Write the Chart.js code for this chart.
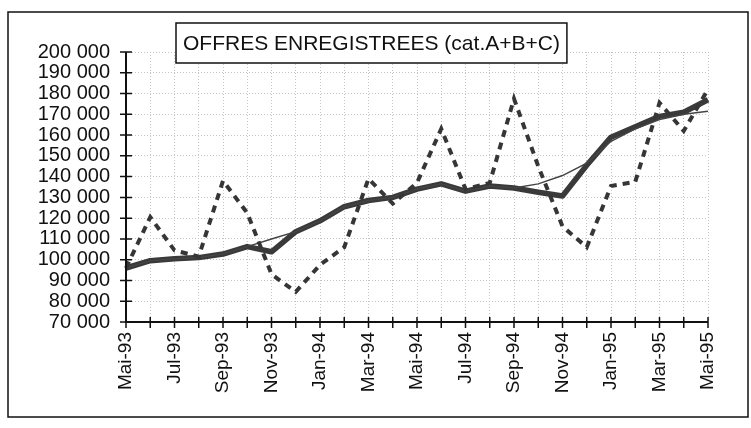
<!DOCTYPE html>
<html>
<head>
<meta charset="utf-8">
<script src="https://cdn.jsdelivr.net/npm/chart.js@4"></script>
<style>
  body { margin: 0; background: #fff; }
  #wrap { width: 751px; height: 428px; position: relative; }
</style>
</head>
<body>
<div id="wrap"><canvas id="myChart" width="751" height="428"></canvas></div>
<script>
// months Mai-93 .. Mai-95
const months = ["Mai-93","Jun-93","Jul-93","Aou-93","Sep-93","Oct-93","Nov-93","Dec-93",
  "Jan-94","Fev-94","Mar-94","Avr-94","Mai-94","Jun-94","Jul-94","Aou-94","Sep-94","Oct-94",
  "Nov-94","Dec-94","Jan-95","Fev-95","Mar-95","Avr-95","Mai-95"]

// raw offers (dashed)
const brut = [96000,120500,104500,101500,138000,122500,93000,84500,97500,106000,139000,127000,
  137000,163000,134000,137000,177500,145000,116000,106000,135500,137500,175500,162000,182000]

// adjusted series (thick)
const cvs = [96000,99500,100500,101000,102700,106300,103800,113500,118700,125500,128500,130000,
  134000,136500,133000,135500,134500,132500,130700,145500,159000,164000,169000,171000,177000]

// trend (thin)
const tendance = [96000,99500,100500,101000,102700,106300,110000,113500,118700,125500,128500,130000,
  134000,136500,133000,135500,134500,136500,140500,146500,157000,163000,167500,170000,171500]

const titre = "OFFRES ENREGISTREES (cat.A+B+C)"
const font = "'Liberation Sans', Arial, sans-serif"

Chart.defaults.font.family = font
Chart.defaults.font.size = 19
Chart.defaults.color = "#111"

const decor = {
  id: "decor",
  beforeDraw(chart) {
    const c = chart.ctx
    c.save()
    c.fillStyle = "#fff"
    c.fillRect(0, 0, chart.width, chart.height)
    c.restore()
  },
  afterDraw(chart) {
    const c = chart.ctx
    const x = chart.scales.x, y = chart.scales.y
    const a = chart.chartArea
    c.save()
    // axes + small crossing ticks
    c.strokeStyle = "#111"
    c.lineWidth = 2
    c.beginPath()
    c.moveTo(a.left, a.top); c.lineTo(a.left, a.bottom); c.lineTo(a.right, a.bottom)
    c.stroke()
    c.lineWidth = 1.5
    c.beginPath()
    y.ticks.forEach((t, i) => {
      const p = y.getPixelForTick(i)
      c.moveTo(a.left - 6, p); c.lineTo(a.left + 6, p)
    })
    x.ticks.forEach((t, i) => {
      const p = x.getPixelForTick(i)
      c.moveTo(p, a.bottom - 5); c.lineTo(p, a.bottom + 6)
    })
    c.stroke()
    // title box
    c.font = "21px " + font
    const w = c.measureText(titre).width
    const bx = 176, by = 23, bw = w + 14, bh = 40
    c.fillStyle = "#fff"
    c.fillRect(bx, by, bw, bh)
    c.strokeStyle = "#111"
    c.lineWidth = 1.5
    c.strokeRect(bx, by, bw, bh)
    c.fillStyle = "#111"
    c.textBaseline = "middle"
    c.fillText(titre, bx + 7, by + bh / 2 + 1)
    // outer frame
    c.lineWidth = 1.5
    c.strokeRect(8, 12, 740, 405)
    c.restore()
  }
}

const da = {
  labels: months,
  datasets: [
    { label: "brut", data: brut, borderColor: "#363636", borderWidth: 4, borderDash: [7, 6],
      pointRadius: 0, tension: 0, fill: false },
    { label: "tendance", data: tendance, borderColor: "#444", borderWidth: 1.5,
      pointRadius: 0, tension: 0, fill: false },
    { label: "cvs", data: cvs, borderColor: "#3a3a3a", borderWidth: 5.5,
      pointRadius: 0, tension: 0, fill: false, borderJoinStyle: "round" }
  ]
}

const config = {
  type: "line",
  data: da,
  plugins: [decor],
  options: {
    responsive: false,
    animation: false,
    layout: { padding: { top: 52, right: 43, left: 0, bottom: 0 } },
    plugins: { legend: { display: false }, tooltip: { enabled: false } },
    scales: {
      x: {
        offset: false,
        afterFit: (s) => { s.height = 106 },
        grid: { color: "#c4c4c4", lineWidth: 1, drawTicks: false },
        border: { display: false, dash: [1, 2] },
        ticks: {
          autoSkip: false, minRotation: 90, maxRotation: 90, padding: 10,
          color: "#111", font: { family: font, size: 19 },
          callback: function (v, i) { return i % 2 == 0 ? this.getLabelForValue(v) : "" }
        }
      },
      y: {
        min: 70000, max: 200000,
        afterFit: (s) => { s.width = 126 },
        grid: { color: "#c4c4c4", lineWidth: 1, drawTicks: false },
        border: { display: false, dash: [1, 2] },
        ticks: {
          autoSkip: false, stepSize: 10000, padding: 16, color: "#111",
          font: { family: font, size: 20 },
          callback: (v) => String(v).replace(/(\d)(?=(\d{3})+$)/g, "$1 ")
        }
      }
    }
  }
}

var myChart = new Chart(document.getElementById("myChart"), config)
</script>
</body>
</html>
